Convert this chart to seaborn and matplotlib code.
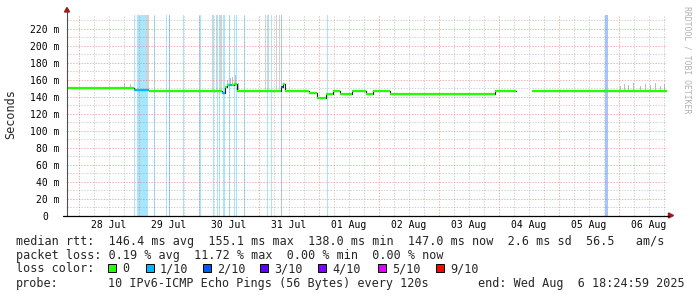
import numpy as np
import pandas as pd
import matplotlib
matplotlib.use("Agg")
import matplotlib.pyplot as plt
import seaborn as sns
from matplotlib.patches import Rectangle, Polygon
from matplotlib.lines import Line2D
from matplotlib.transforms import ScaledTranslation

# ---------------- data ----------------
day_labels = ["28 Jul", "29 Jul", "30 Jul", "31 Jul", "01 Aug",
              "02 Aug", "03 Aug", "04 Aug", "05 Aug", "06 Aug"]
y_ticks_ms = [0, 20, 40, 60, 80, 100, 120, 140, 160, 180, 200, 220]

loss_labels = ["0", "1/10", "2/10", "3/10", "4/10", "5/10", "9/10"]
loss_colors = ["#26ff00", "#00b8ff", "#0059ff", "#5e00ff", "#7e00ff", "#dd00ff", "#ff0000"]

# median rtt (ms) as steps: start time (days since 28 Jul 00:00), value, loss index
med_t = [-0.2, 0.92, 1.167, 2.383, 2.425, 2.467, 2.50, 2.55, 2.583, 2.633,
         3.367, 3.40, 3.433, 3.833, 3.967, 4.117, 4.233, 4.35, 4.55, 4.783,
         4.90, 5.183, 6.933, 7.283, 7.55]
med_ms = [149.8, 148.2, 147.0, 144.6, 151.5, 153.7, 153.7, 154.0, 155.0, 147.0,
          151.0, 155.0, 147.0, 144.5, 138.5, 143.0, 147.0, 143.3, 147.0, 143.3,
          147.0, 143.3, 147.0, np.nan, 147.0]
med_loss = [0, 1, 0, 1, 0, 0, 1, 0, 0, 0,
            2, 0, 0, 0, 0, 0, 0, 0, 0, 0,
            0, 0, 0, 0, 0]
t_end = 9.8

# loss background bars: start (days), duration (days), loss index
loss_t = [0.913, 0.972, 1.247, 1.442, 1.497, 1.733, 2.008, 2.233, 2.297, 2.330,
          2.400, 2.497, 2.583, 2.617, 2.742, 3.133, 3.200, 3.367, 4.130, 8.767]
loss_w = [0.017, 0.178, 0.017, 0.017, 0.017, 0.017, 0.017, 0.025, 0.017, 0.017,
          0.028, 0.017, 0.017, 0.017, 0.017, 0.017, 0.017, 0.017, 0.017, 0.042]
loss_n = [1, 1, 1, 1, 2, 1, 1, 1, 1, 1,
          1, 1, 1, 1, 1, 1, 1, 2, 1, 2]

# smoke (spread of individual pings): start, duration, low ms, high ms
smoke_t = [0.75, 0.85, 1.12, 2.222, 2.287, 2.358, 2.467, 2.51, 2.55, 2.60, 2.65,
           3.100, 3.158, 3.283, 3.333,
           9.017, 9.083, 9.15, 9.233, 9.35, 9.433, 9.517, 9.60, 9.683, 9.75]
smoke_w = [0.02, 0.017, 0.04, 0.017, 0.017, 0.017, 0.017, 0.017, 0.017, 0.017, 0.017,
           0.012, 0.012, 0.012, 0.012,
           0.012, 0.012, 0.012, 0.012, 0.012, 0.012, 0.012, 0.012, 0.012, 0.012]
smoke_lo = [149, 149, 147, 147, 147, 147, 150, 152, 152, 153, 147,
            147, 147, 147, 147,
            147, 147, 147, 147, 147, 147, 147, 147, 147, 147]
smoke_hi = [156, 155, 400, 400, 400, 400, 160, 162, 163, 165, 156,
            400, 400, 400, 400,
            153, 155, 154, 156, 153, 155, 154, 156, 153, 155]

stat_lines = [
    "median rtt:  146.4 ms avg  155.1 ms max  138.0 ms min  147.0 ms now  2.6 ms sd  56.5   am/s",
    "packet loss: 0.19 % avg  11.72 % max  0.00 % min  0.00 % now",
]
loss_title = "loss color:"
probe_label = "probe:"
probe_text = "10 IPv6-ICMP Echo Pings (56 Bytes) every 120s"
end_text = "end: Wed Aug  6 18:24:59 2025"
ylabel_text = "Seconds"
watermark = "RRDTOOL / TOBI OETIKER"

# ---------------- layout ----------------
W, H = 697, 297
sns.set_style("white")
plt.rcParams["font.family"] = ["DejaVu Sans Mono", "DejaVu Sans"]

fig = plt.figure(figsize=(W / 100, H / 100), dpi=100)
fig.patch.set_facecolor("white")

def fx(px):
    return px / W

def fy(py):
    return 1 - py / H

ax_left, ax_right, ax_top, ax_bot = 67, 667, 14.7, 215.5
ax = fig.add_axes([fx(ax_left), fy(ax_bot), fx(ax_right - ax_left), (ax_bot - ax_top) / H])
ax.set_facecolor("white")
ymax = 236.5
ax.set_xlim(-0.2, t_end)
ax.set_ylim(0, ymax)
for s in ax.spines.values():
    s.set_visible(False)

# loss background bars
ax.bar(loss_t, [ymax] * len(loss_t), width=loss_w, align="edge",
       color=[loss_colors[n] for n in loss_n], alpha=0.35, linewidth=0, zorder=1)

# smoke
smoke_cols = ["#d2d2d2" if h > ymax else "#bdbdbd" for h in smoke_hi]
ax.bar(smoke_t, np.array(smoke_hi) - np.array(smoke_lo), bottom=smoke_lo, width=smoke_w,
       align="edge", color=smoke_cols, linewidth=0, zorder=1.2)

# grid
minor_grid = dict(color=(0.55, 0.55, 0.55), alpha=0.38, lw=0.72, ls=(0, (1.4, 1.4)), zorder=1.5)
major_grid = dict(color=(0.92, 0.45, 0.45), alpha=0.55, lw=0.72, ls=(0, (1.4, 1.4)), zorder=1.6)
for q in np.arange(-0.0, 10.0, 0.25):
    if -0.2 < q < t_end and abs(q - round(q)) > 1e-6:
        ax.axvline(q, **minor_grid)
for d in range(0, 10):
    ax.axvline(d, **major_grid)
for v in range(10, 240, 20):
    ax.axhline(v, **minor_grid)
for v in range(20, 240, 20):
    ax.axhline(v, **major_grid)

# median line: dark step path
rows = []
unit = 0
for i in range(len(med_t)):
    t0 = med_t[i]
    t1 = med_t[i + 1] if i + 1 < len(med_t) else t_end
    v = med_ms[i]
    if np.isnan(v):
        unit += 1
        continue
    rows.append((t0, v, unit))
    rows.append((t1, v, unit))
df = pd.DataFrame(rows, columns=["t", "ms", "unit"])
sns.lineplot(data=df, x="t", y="ms", units="unit", estimator=None, sort=False,
             color="#202020", lw=0.8, ax=ax, zorder=3, legend=False)
# loss coloured median band
for i in range(len(med_t)):
    t0 = med_t[i]
    t1 = med_t[i + 1] if i + 1 < len(med_t) else t_end
    v = med_ms[i]
    if np.isnan(v):
        continue
    ax.hlines(v, t0, t1, color=loss_colors[med_loss[i]], lw=1.6, zorder=4, capstyle="butt")

ax.set_xlabel("")
ax.set_ylabel("")

# ticks
ax.set_xticks([d + 0.5 for d in range(10)])
ax.set_xticklabels(day_labels)
ax.set_xticks(list(range(0, 10)), minor=True)
ax.tick_params(axis="x", which="major", length=0, pad=3.2, labelsize=7, colors="black")
ax.tick_params(axis="x", which="minor", length=1.6, width=0.8, direction="out", color="black")
ax.set_yticks(y_ticks_ms)
ax.set_yticklabels([f"{v} m" if v else "0" for v in y_ticks_ms])
ax.tick_params(axis="y", which="major", length=0, pad=5.2, labelsize=7, colors="black")
for lab in ax.get_yticklabels():
    if lab.get_text() == "0":
        lab.set_transform(lab.get_transform() + ScaledTranslation(-12 / 100, 0, fig.dpi_scale_trans))

# axes lines and arrows
fig.add_artist(Line2D([fx(ax_left), fx(ax_left)], [fy(ax_bot), fy(11)], color="#505050", lw=0.8))
fig.add_artist(Line2D([fx(63), fx(669)], [fy(ax_bot), fy(ax_bot)], color="black", lw=0.9))
fig.add_artist(Polygon([[fx(64.5), fy(12)], [fx(69.5), fy(12)], [fx(67), fy(7.5)]],
                       closed=True, color="#a01818", transform=fig.transFigure))
fig.add_artist(Polygon([[fx(668.5), fy(213)], [fx(668.5), fy(218)], [fx(673.5), fy(215.5)]],
                       closed=True, color="#a01818", transform=fig.transFigure))

# y label and watermark
fig.text(fx(10.5), fy(114), ylabel_text, rotation=90, ha="center", va="center", fontsize=8.5)
fig.text(fx(687), fy(60), watermark, rotation=-90, ha="center", va="center",
         fontsize=5.9, color="#b0b0b0")

# statistics text
fs = 8.5
fig.text(fx(16), fy(244.5), stat_lines[0], ha="left", va="baseline", fontsize=fs)
fig.text(fx(16), fy(258.5), stat_lines[1], ha="left", va="baseline", fontsize=fs)
fig.text(fx(16), fy(272.5), loss_title, ha="left", va="baseline", fontsize=fs)
box_x = [108, 146, 203, 260, 318, 378, 436]
for bx, col, lab in zip(box_x, loss_colors, loss_labels):
    fig.add_artist(Rectangle((fx(bx), fy(272)), fx(8), 8 / H, facecolor=col,
                             edgecolor="black", lw=0.7, transform=fig.transFigure))
    fig.text(fx(bx + 14), fy(272.5), lab, ha="left", va="baseline", fontsize=fs)
fig.text(fx(16), fy(286.5), probe_label, ha="left", va="baseline", fontsize=fs)
fig.text(fx(108), fy(286.5), probe_text, ha="left", va="baseline", fontsize=fs)
fig.text(fx(478), fy(286.5), end_text, ha="left", va="baseline", fontsize=fs)

fig.savefig("out.png", dpi=100, facecolor="white")
